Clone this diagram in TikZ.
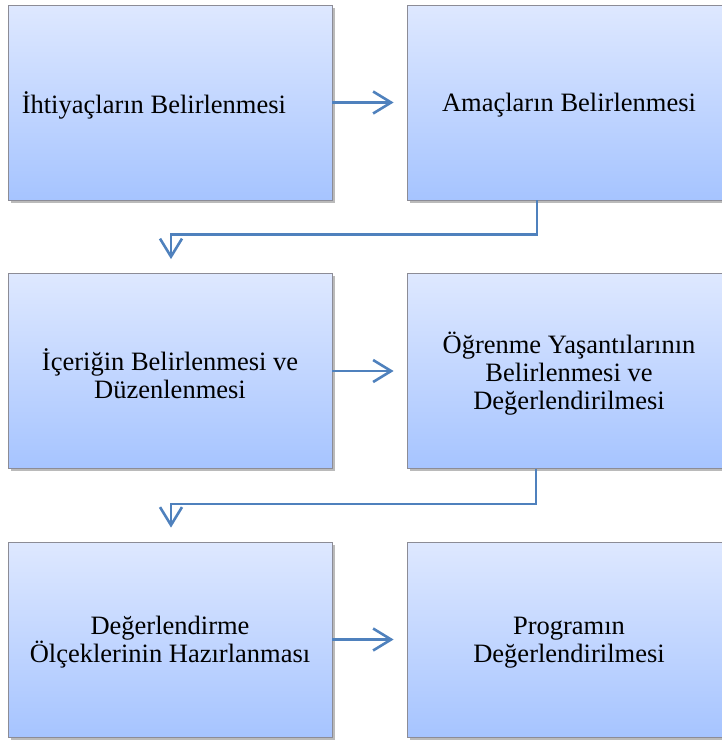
\documentclass[tikz,border=0pt]{standalone}
\usepackage{fontspec}
\setmainfont{Liberation Serif}
\usetikzlibrary{arrows.meta,shadows}
\definecolor{boxtop}{RGB}{222,232,255}
\definecolor{boxbot}{RGB}{166,196,255}
\definecolor{boxline}{RGB}{140,140,150}
\definecolor{arrowblue}{RGB}{79,129,189}
\tikzset{
  stagebox/.style={rectangle, draw=boxline, line width=0.8pt,
    top color=boxtop, bottom color=boxbot,
    minimum width=324pt, minimum height=195pt, inner sep=0pt,
    drop shadow={shadow xshift=2.5pt, shadow yshift=-2.5pt, opacity=0.45, fill=black!60}},
  boxtext/.style={align=center, inner sep=0pt, font=\fontsize{26.5}{28}\selectfont},
  flowarrow/.style={draw=arrowblue, line width=2.6pt,
    -{Straight Barb[length=18pt, width=22pt, line width=2.6pt]}}
}
\begin{document}
\begin{tikzpicture}[x=1pt,y=-1pt]
\useasboundingbox (0,0) rectangle (722,740);
\node[stagebox] (a) at (170,102.5) {};
\node[stagebox] (b) at (569,102.5) {};
\node[stagebox] (c) at (170,371) {};
\node[stagebox] (d) at (569,371) {};
\node[stagebox] (e) at (170,639.5) {};
\node[stagebox] (f) at (569,639.5) {};
\node[boxtext, anchor=west] (at) at ([xshift=14pt,yshift=-3pt]a.west) {İhtiyaçların Belirlenmesi};
\node[boxtext] (bt) at ([yshift=-3pt]b.center) {Amaçların Belirlenmesi};
\node[boxtext] (ct) at ([yshift=-3pt]c.center) {İçeriğin Belirlenmesi ve\\Düzenlenmesi};
\node[boxtext] (dt) at ([yshift=-3pt]d.center) {Öğrenme Yaşantılarının\\Belirlenmesi ve\\Değerlendirilmesi};
\node[boxtext] (et) at ([yshift=-3pt]e.center) {Değerlendirme\\Ölçeklerinin Hazırlanması};
\node[boxtext] (ft) at ([yshift=-3pt]f.center) {Programın\\Değerlendirilmesi};
\draw[flowarrow] (a.east) -- ([xshift=-13pt]b.west);
\draw[flowarrow] (c.east) -- ([xshift=-13pt]d.west);
\draw[flowarrow] (e.east) -- ([xshift=-13pt]f.west);
\draw[flowarrow] ([xshift=-32pt]b.south) -- ++(0,34) -| ([xshift=1pt,yshift=14pt]c.north);
\draw[flowarrow] ([xshift=-33pt]d.south) -- ++(0,35) -| ([xshift=1pt,yshift=14pt]e.north);
\end{tikzpicture}
\end{document}
